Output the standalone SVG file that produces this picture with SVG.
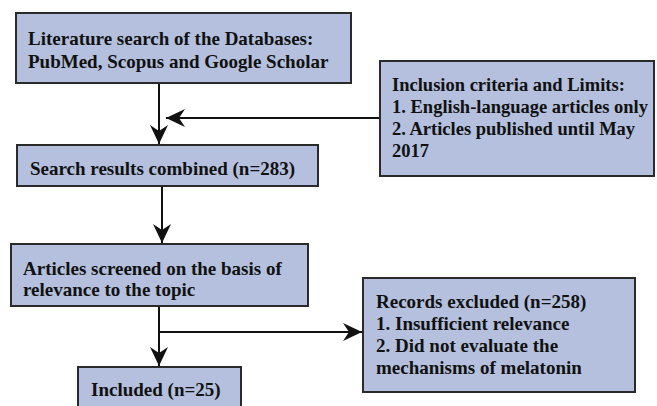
<svg xmlns="http://www.w3.org/2000/svg" width="657" height="406" viewBox="0 0 657 406">
<style>
.box{fill:#b4c0dd;stroke:#2a2a2a;stroke-width:2}
.t{font-family:"Liberation Serif","Times New Roman",serif;font-weight:bold;font-size:19px;fill:#111}
.s{font-size:18.5px}
.c{fill:none;stroke:#111;stroke-width:2}
</style>
<defs>
<marker id="ah" markerUnits="userSpaceOnUse" markerWidth="20" markerHeight="20" refX="19" refY="10" orient="auto">
<path d="M0,1 L19,10 L0,19 L6,10 z" fill="#111"/>
</marker>
</defs>
<rect width="657" height="406" fill="#fff"/>
<g id="connectors">
<line class="c" x1="159" y1="83" x2="159" y2="144" marker-end="url(#ah)"/>
<line class="c" x1="380" y1="118" x2="166" y2="118" marker-end="url(#ah)"/>
<line class="c" x1="162" y1="186" x2="162" y2="243" marker-end="url(#ah)"/>
<line class="c" x1="159" y1="306" x2="159" y2="366" marker-end="url(#ah)"/>
<line class="c" x1="159" y1="332" x2="362" y2="332" marker-end="url(#ah)"/>
</g>
<g id="n1">
<rect class="box" x="16" y="13" width="335" height="70"/>
<text class="t" x="28" y="45">Literature search of the Databases:</text>
<text class="t" x="28" y="68">PubMed, Scopus and Google Scholar</text>
</g>
<g id="n2">
<rect class="box" x="380" y="61" width="274" height="115"/>
<text class="t s" x="392" y="91">Inclusion criteria and Limits:</text>
<text class="t s" x="392" y="113">1. English-language articles only</text>
<text class="t s" x="392" y="135">2. Articles published until May</text>
<text class="t s" x="392" y="157">2017</text>
</g>
<g id="n3">
<rect class="box" x="17" y="145" width="301" height="41"/>
<text class="t" x="30" y="175">Search results combined (n=283)</text>
</g>
<g id="n4">
<rect class="box" x="11" y="244" width="297" height="62"/>
<text class="t" x="23" y="275">Articles screened on the basis of</text>
<text class="t" x="23" y="296">relevance to the topic</text>
</g>
<g id="n5">
<rect class="box" x="363" y="278" width="272" height="114"/>
<text class="t" x="376" y="308">Records excluded (n=258)</text>
<text class="t" x="376" y="330">1. Insufficient relevance</text>
<text class="t" x="376" y="352">2. Did not evaluate the</text>
<text class="t" x="376" y="374">mechanisms of melatonin</text>
</g>
<g id="n6">
<rect class="box" x="78" y="367" width="163" height="50"/>
<text class="t" x="91" y="396">Included (n=25)</text>
</g>
</svg>
